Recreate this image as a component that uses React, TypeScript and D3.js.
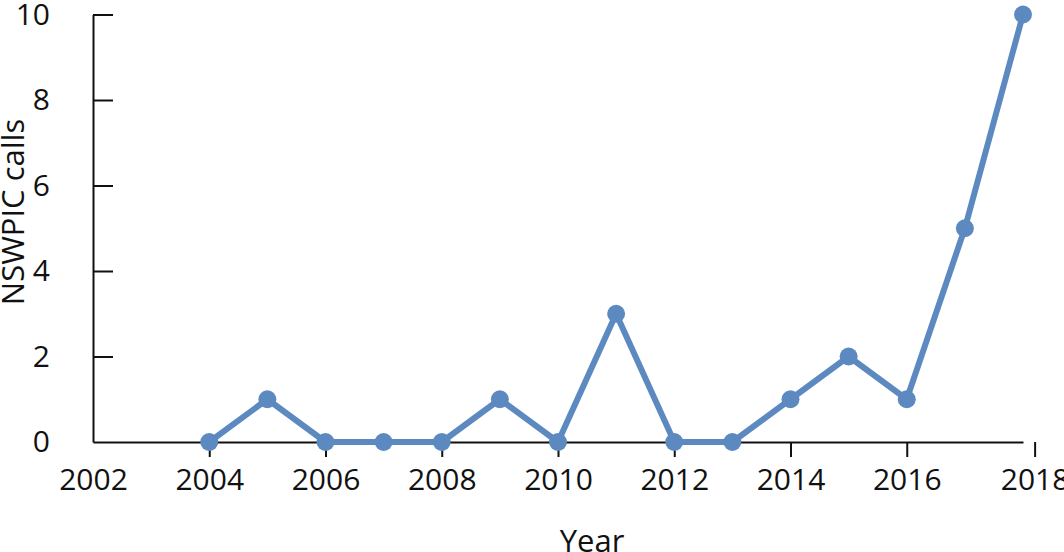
import * as React from 'react';
import {useEffect, useRef} from 'react';
import * as d3 from 'd3';

const years = [2004, 2005, 2006, 2007, 2008, 2009, 2010, 2011, 2012, 2013, 2014, 2015, 2016, 2017, 2018];
const calls = [0, 1, 0, 0, 0, 1, 0, 3, 0, 0, 1, 2, 1, 5, 10];
const xTicks = [2002, 2004, 2006, 2008, 2010, 2012, 2014, 2016, 2018.2];
const yTicks = [0, 2, 4, 6, 8, 10];

const width = 1064;
const height = 552;
const lineColor = '#5d89c1';
const font = '"Open Sans", sans-serif';

const App = () => {
    const chartRef = useRef(null);

    useEffect(() => {
        const svg = d3.select(chartRef.current);
        svg.selectAll('*').remove();

        const xScale = d3.scaleLinear().domain([2002, 2018]).range([93, 1023]);
        const yScale = d3.scaleLinear().domain([0, 10]).range([442, 14.5]);

        // x axis
        const gx = svg.append('g')
            .attr('transform', `translate(0, ${yScale(0)})`)
            .call(d3.axisBottom(xScale)
                .tickValues(xTicks)
                .tickSizeOuter(0)
                .tickSizeInner(15)
                .tickPadding(12)
                .tickFormat(d => String(Math.round(+d))));
        gx.select('.domain').attr('stroke', '#111').attr('stroke-width', 2);
        gx.selectAll('.tick line').attr('stroke', '#111').attr('stroke-width', 2);
        gx.select('.tick line').remove();
        gx.selectAll('text')
            .style('font-family', font)
            .style('font-size', '30px')
            .attr('fill', '#111');

        // y axis
        const gy = svg.append('g')
            .attr('transform', `translate(${xScale(2002)}, 0)`)
            .call(d3.axisLeft(yScale)
                .tickValues(yTicks)
                .tickSizeOuter(0)
                .tickSizeInner(-20)
                .tickPadding(43)
                .tickFormat(d3.format('d')));
        gy.select('.domain').attr('stroke', '#111').attr('stroke-width', 2);
        gy.selectAll('.tick line').attr('stroke', '#111').attr('stroke-width', 2);
        gy.selectAll('.tick').filter(d => d === 0).select('line').remove();
        gy.selectAll('text')
            .style('font-family', font)
            .style('font-size', '30px')
            .attr('fill', '#111');

        const data = years.map((y, i) => ({year: y, value: calls[i]}));

        const line = d3.line()
            .x(d => xScale(d.year))
            .y(d => yScale(d.value));

        svg.append('path')
            .datum(data)
            .attr('d', line)
            .attr('fill', 'none')
            .attr('stroke', lineColor)
            .attr('stroke-width', 6)
            .attr('stroke-linejoin', 'round');

        svg.selectAll('circle')
            .data(data)
            .enter()
            .append('circle')
            .attr('cx', d => xScale(d.year))
            .attr('cy', d => yScale(d.value))
            .attr('r', 9)
            .attr('fill', lineColor);

        svg.append('text')
            .attr('x', 592)
            .attr('y', 552)
            .style('text-anchor', 'middle')
            .style('font-family', font)
            .style('font-size', '31px')
            .attr('fill', '#111')
            .text('Year');

        svg.append('text')
            .attr('transform', 'translate(24, 212) rotate(-90)')
            .style('text-anchor', 'middle')
            .style('font-family', font)
            .style('font-size', '31px')
            .attr('fill', '#111')
            .text('NSWPIC calls');
    }, []);

    return (
        <svg ref={chartRef} width={width} height={height}
             style={{position: 'absolute', top: 0, left: 0, background: '#fff'}}></svg>
    );
};

export default App;
